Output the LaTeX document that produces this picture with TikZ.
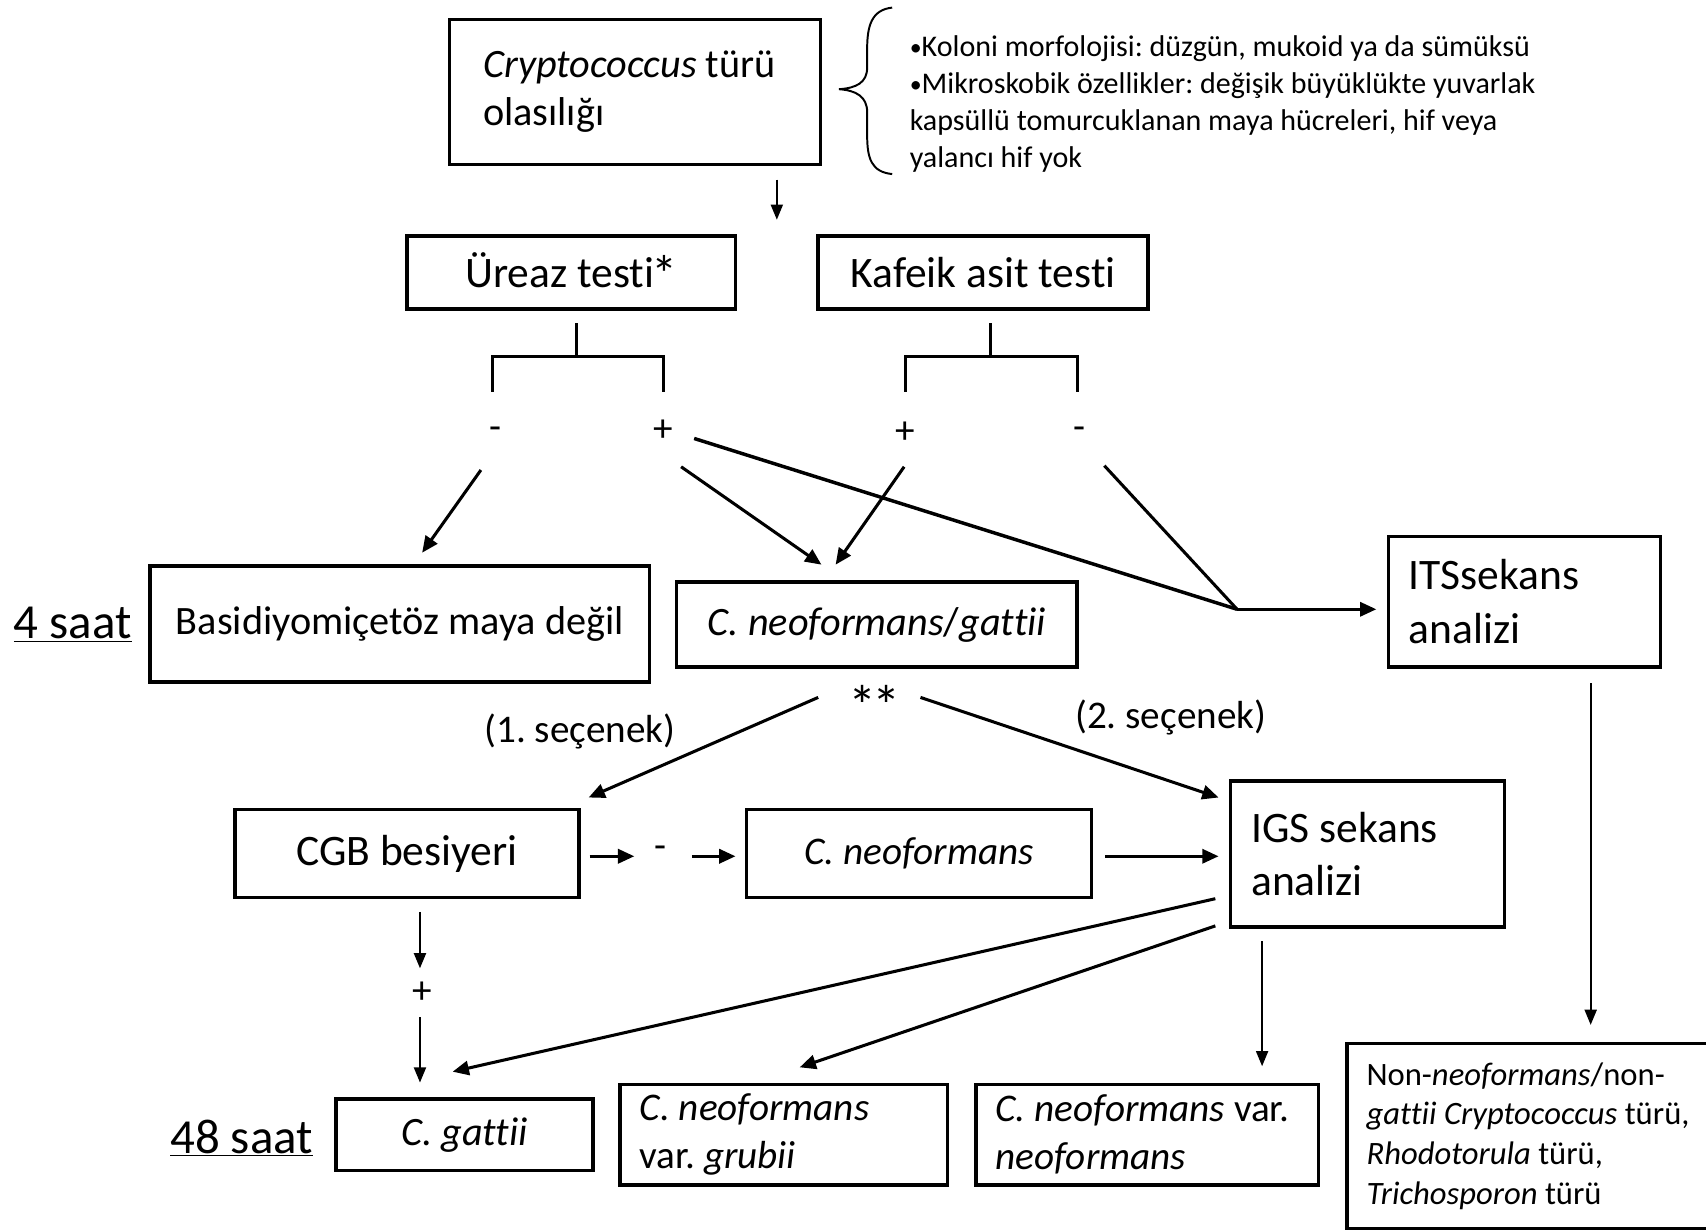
\documentclass[tikz,border=0pt]{standalone}
\usepackage{fontspec}
\setmainfont{Carlito}[Ligatures={NoCommon}]
\usetikzlibrary{arrows.meta}
\newcommand\myfs[2]{\fontsize{#1}{#2}\selectfont}
\newcommand\myit[1]{{\itshape #1}}
\newcommand\mybul{\raisebox{1.5pt}{\fontsize{22}{34}\selectfont •}}
\newcommand\mystar{\kern-3pt\raisebox{-4pt}{\fontsize{48}{48}\selectfont *}}
\frenchspacing
\begin{document}
\begin{tikzpicture}[x=1pt,y=-1pt,
  box/.style={draw,line width=3.2pt,inner sep=0pt},
  arr/.style={line width=2.8pt,-{Triangle[length=15pt,width=13pt]}},
  tarr/.style={line width=2pt,-{Triangle[length=14pt,width=11pt]}},
  ln/.style={line width=2.8pt},
  brk/.style={line width=2.6pt},
  lbl/.style={inner sep=0pt,font=\myfs{36}{42}}]
\useasboundingbox (0,0) rectangle (1568,1131);

% boxes
\node[box,minimum width=341,minimum height=133,text width=279,align=flush left,font=\myfs{37}{44}] (crypto) at (583.5,84.5) {\myit{Cryptococcus} türü\\olasılığı};
\node[inner sep=0pt,anchor=west,align=flush left,font=\myfs{27.6}{34}] (bul) at (836,96) {\mybul Koloni morfolojisi: düzgün, mukoid ya da sümüksü\\\mybul Mikroskobik özellikler: değişik büyüklükte yuvarlak\\kapsüllü tomurcuklanan maya hücreleri, hif veya\\yalancı hif yok};
\draw[line width=1.8pt] (820,7) .. controls (801,9) and (797,24) .. (797,45) -- (797,62) .. controls (797,76) and (787,81) .. (771,82) .. controls (787,83) and (797,89) .. (797,103) -- (797,124) .. controls (797,146) and (801,158) .. (820,160);

\node[box,minimum width=302,minimum height=67,font=\myfs{40}{44}] (ureaz) at (525,250.5) {Üreaz testi\mystar};
\node[box,minimum width=303,minimum height=67,font=\myfs{40}{44}] (kafeik) at (903.5,250.5) {Kafeik asit testi};

\node[box,minimum width=459,minimum height=107,font=\myfs{37}{42}] (basid) at (367.5,573.5) {Basidiyomiçetöz maya değil};
\node[box,minimum width=368,minimum height=78,font=\myfs{37}{42}] (cng) at (806,574) {\myit{C. neoformans}/\myit{gattii}};
\node[box,minimum width=250,minimum height=120,text width=212,align=flush left,font=\myfs{40}{50}] (its) at (1401,553) {ITSsekans\\analizi};

\node[box,minimum width=316,minimum height=81,font=\myfs{40}{44}] (cgb) at (374,784.5) {CGB besiyeri};
\node[box,minimum width=317,minimum height=81,font=\myfs{36}{42}] (cneo) at (844.5,784.5) {\myit{C. neoformans}};
\node[box,minimum width=252,minimum height=134,text width=214,align=flush left,font=\myfs{40}{48}] (igs) at (1257,785) {IGS sekans\\analizi};

\node[box,minimum width=236,minimum height=66,font=\myfs{37}{42}] (cgat) at (427,1043) {\myit{C. gattii}};
\node[box,minimum width=301,minimum height=92,text width=265,align=flush left,font=\myfs{36}{44}] (grubii) at (720.5,1043) {\myit{C. neoformans}\\var. \myit{grubii}};
\node[box,minimum width=315,minimum height=92,text width=279,align=flush left,font=\myfs{36}{44}] (varneo) at (1054.5,1043) {\myit{C. neoformans} var.\\\myit{neoformans}};
\node[box,minimum width=342,minimum height=170,text width=306,align=flush left,font=\myfs{30}{36.5}] (nonneo) at (1409,1044) {Non-\myit{neoformans}/non-\\\myit{gattii Cryptococcus} türü,\\\myit{Rhodotorula} türü,\\\myit{Trichosporon} türü};

% side labels
\node[inner sep=0pt,font=\myfs{45}{50}] (s4) at (67,574) {\underline{4 saat}};
\node[inner sep=0pt,font=\myfs{45}{50}] (s48) at (222,1046) {\underline{48 saat}};

% brackets
\draw[brk] (530,297) -- (530,328);
\draw[brk] (453,360) -- (453,328) -- (610,328) -- (610,360);
\draw[brk] (910,297) -- (910,328);
\draw[brk] (832,360) -- (832,328) -- (990,328) -- (990,360);

% +/- labels
\node[lbl] (um) at (455,398) {-};
\node[lbl] (up) at (610,396) {+};
\node[lbl] (kp) at (832,398) {+};
\node[lbl] (km) at (992,398) {-};
\node[lbl,font=\myfs{52}{52}] (stars) at (804,648) {*\kern-4pt*};
\node[lbl] (opt1) at (533,672) {(1. seçenek)};
\node[lbl] (opt2) at (1076,659) {(2. seçenek)};
\node[lbl] (cm) at (607,783) {-};
\node[lbl] (cp) at (388,912) {+};

% coordinates
\coordinate (a0s) at (714,165); \coordinate (a0e) at (714,202);
\coordinate (b1s) at (442,432); \coordinate (b1e) at (388,508);
\coordinate (b2s) at (626,429); \coordinate (b2e) at (755,519);
\coordinate (b3s) at (831,429); \coordinate (b3e) at (768,519);
\coordinate (b4s) at (638,403); \coordinate (junc) at (1137,560);
\coordinate (b5s) at (1015,428); \coordinate (b6e) at (1265,560);
\coordinate (o1s) at (752,641); \coordinate (o1e) at (541,733);
\coordinate (o2s) at (846,641); \coordinate (o2e) at (1120,733);
\coordinate (c1s) at (542,787); \coordinate (c1e) at (583,787);
\coordinate (c2s) at (636,787); \coordinate (c2e) at (676,787);
\coordinate (c3s) at (1016,787); \coordinate (c3e) at (1120,787);
\coordinate (d1s) at (386,838); \coordinate (d1e) at (386,890);
\coordinate (d2s) at (386,935); \coordinate (d2e) at (386,995);
\coordinate (g1s) at (1117,826); \coordinate (g1e) at (416,985);
\coordinate (g2s) at (1117,851); \coordinate (g2e) at (735,981);
\coordinate (g3s) at (1160,865); \coordinate (g3e) at (1160,980);
\coordinate (t1s) at (1462,628); \coordinate (t1e) at (1462,942);

% connectors
\draw[tarr] (a0s) -- (a0e);
\draw[arr] (b1s) -- (b1e);
\draw[arr] (b2s) -- (b2e);
\draw[arr] (b3s) -- (b3e);
\draw[line width=3.2pt] (b4s) -- (junc);
\draw[ln] (b5s) -- (junc);
\draw[arr] (junc) -- (b6e);
\draw[arr] (o1s) -- (o1e);
\draw[arr] (o2s) -- (o2e);
\draw[arr] (c1s) -- (c1e);
\draw[arr] (c2s) -- (c2e);
\draw[arr] (c3s) -- (c3e);
\draw[tarr] (d1s) -- (d1e);
\draw[tarr] (d2s) -- (d2e);
\draw[arr] (g1s) -- (g1e);
\draw[arr] (g2s) -- (g2e);
\draw[tarr] (g3s) -- (g3e);
\draw[tarr] (t1s) -- (t1e);
\end{tikzpicture}
\end{document}
